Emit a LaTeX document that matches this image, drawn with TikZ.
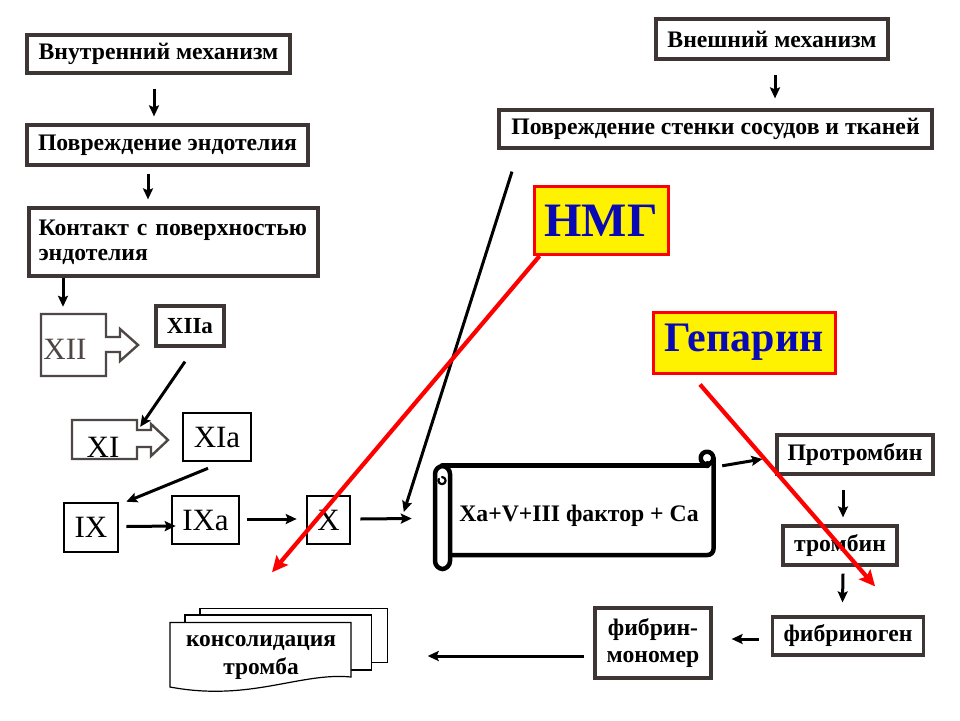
\documentclass[tikz,border=0pt]{standalone}
\usepackage{fontspec}
\setmainfont{Liberation Serif}
\usetikzlibrary{arrows.meta,calc}
\definecolor{boxgray}{HTML}{3E3535}
\definecolor{numgray}{HTML}{4F4646}
\definecolor{drugblue}{HTML}{0A0AB4}
\begin{document}
\begin{tikzpicture}[x=1pt,y=-1pt,
  lbl/.style={draw=boxgray, line width=3.2pt, fill=white, inner sep=0pt,
    font=\fontsize{23.7}{26}\selectfont\bfseries},
  numbox/.style={draw=black, line width=2.6pt, fill=white, inner sep=0pt,
    font=\fontsize{31}{32}\selectfont},
  drug/.style={draw=red, line width=3pt, fill=yellow, inner sep=0pt,
    text=drugblue, font=\bfseries},
  arr/.style={-{Stealth[length=11pt,width=10pt,inset=2pt]}, line width=3pt, black},
  redarr/.style={-{Stealth[length=16pt,width=15pt,inset=3pt]}, line width=4.2pt, red},
  outl/.style={draw=numgray, line width=2.4pt, fill=white},
  docline/.style={draw=black, line width=1.2pt, fill=white},
]
\useasboundingbox (0,0) rectangle (960,720);
\fill[white] (0,0) rectangle (960,720);

% left column boxes
\node[lbl, minimum width=263pt, minimum height=38pt] (inner) at (158.5,54) {Внутренний механизм};
\node[lbl, minimum width=281pt, minimum height=40pt] (endo) at (167.5,145) {Повреждение эндотелия};
\node[lbl, minimum width=289pt, minimum height=68pt, text width=270pt, align=left,
  font=\fontsize{23.7}{25}\selectfont\bfseries] (contact) at (173.5,242)
  {Контакт с поверхностью\\эндотелия};

% right top boxes
\node[lbl, minimum width=232pt, minimum height=40pt] (extern) at (772,39) {Внешний механизм};
\node[lbl, minimum width=433pt, minimum height=38pt] (wall) at (715.5,129) {Повреждение стенки сосудов и тканей};

% XII arrow shape
\draw[outl] (106,337) -- (120,337) -- (120,329) -- (138,345) -- (120,361) -- (120,352) -- (106,352)
  -- (106,376) -- (41,376) -- (41,314) -- (106,314) -- cycle;
\node[inner sep=0pt, minimum width=65pt, minimum height=62pt] (xiibox) at (73.5,345) {};
\node[font=\fontsize{31}{32}\selectfont, text=numgray, inner sep=0pt] (xii) at (65,349) {XII};

\node[numbox, line width=3.2pt, draw=boxgray, minimum width=68pt, minimum height=40pt,
  font=\fontsize{23}{24}\selectfont\bfseries] (xiia) at (190,326) {XIIa};

% XI arrow shape
\draw[outl] (137,430) -- (151,430) -- (151,424) -- (168,440) -- (151,456) -- (151,447) -- (137,447)
  -- (137,459) -- (72,459) -- (72,420) -- (137,420) -- cycle;
\node[inner sep=0pt, minimum width=65pt, minimum height=39pt] (xibox) at (104.5,439.5) {};
\node[font=\fontsize{31}{32}\selectfont, text=black, inner sep=0pt] (xi) at (103,447) {XI};

\node[numbox, minimum width=68pt, minimum height=48pt] (xia) at (217,437) {XIa};
\node[numbox, minimum width=54pt, minimum height=49pt] (ix) at (91,527.5) {IX};
\node[numbox, minimum width=67pt, minimum height=48pt] (ixa) at (205.5,520) {IXa};
\node[numbox, minimum width=43pt, minimum height=48pt] (x) at (328.5,520) {X};

% scroll
\begin{scope}[line width=4.5pt, line join=round, line cap=round]
  \fill[white] (443,465) rectangle (713,555);
  \draw (442,465.5) -- (707,465.5);
  \draw (713.5,458) -- (713.5,549) arc[start angle=0, end angle=90, radius=6] -- (450,555);
  \draw[fill=white] (707,458) circle[radius=6.3];
  \draw[line width=2.2pt] (707,462) arc[start angle=-90, end angle=150, radius=2.6];
  \draw[fill=white, rounded corners=8pt] (435,466) rectangle (450,569);
  \draw[line width=2.2pt] (442,477) arc[start angle=-90, end angle=210, radius=3.6];
\end{scope}
\node[inner sep=0pt, minimum width=280pt, minimum height=107pt] (scroll) at (575,518.5) {};
\node[font=\fontsize{23.7}{26}\selectfont\bfseries, inner sep=0pt] (scrolltxt) at (579,516) {Xa+V+III фактор + Ca};

% right column
\node[lbl, minimum width=156pt, minimum height=39pt] (prothr) at (855,454.5) {Протромбин};
\node[lbl, minimum width=114pt, minimum height=39pt] (thr) at (840,545.5) {тромбин};
\node[lbl, minimum width=151pt, minimum height=38pt] (fibrinogen) at (848,636) {фибриноген};
\node[lbl, minimum width=116pt, minimum height=70pt, align=center,
  font=\fontsize{23.7}{27}\selectfont\bfseries] (fm) at (653,643) {фибрин-\\мономер};

% consolidation stack
\draw[docline] (200,608.5) -- (387.5,608.5) -- (387.5,662.5) -- (200,662.5) -- cycle;
\node[inner sep=0pt, minimum width=187pt, minimum height=54pt] (consback) at (293.5,635.5) {};
\draw[docline] (185,615) -- (371.5,615) -- (371.5,670) -- (185,670) -- cycle;
\draw[docline] (170,622.5) -- (351,622.5) -- (351,677)
  .. controls (300,672) and (250,702) .. (170,687) -- cycle;
\node[inner sep=0pt, minimum width=181pt, minimum height=65pt] (cons) at (260.5,655) {};
\node[font=\fontsize{23.4}{28}\selectfont\bfseries, align=center, inner sep=0pt] (constxt) at (261,657)
  {консолидация\\тромба};

% drug boxes
\node[drug, minimum width=134pt, minimum height=68pt, font=\fontsize{48}{50}\selectfont\bfseries] (nmg) at (601,220.5) {НМГ};
\node[drug, minimum width=182pt, minimum height=61pt, font=\fontsize{42}{46}\selectfont\bfseries] (hep) at (744,342.5) {Гепарин};

% black arrows
\draw[arr] ($(inner.south)+(-4.5,14)$) -- ($(endo.north)+(-13.5,-7)$);
\draw[arr] ($(endo.south)+(-19.5,7)$) -- ($(contact.north)+(-25.5,-7)$);
\draw[arr] ($(contact.south)+(-110.5,0)$) -- ($(xiibox.north)+(-10.5,-7)$);
\draw[arr] ($(xiia.south)+(-5,14)$) -- ($(xibox.north east)+(3,7)$);
\draw[arr] ($(xia.south)+(-9,6)$) -- ($(ix.north east)+(7,0)$);
\draw[arr] ($(ix.east)+(7,-1)$) -- ($(ixa.west)+(5,6)$);
\draw[arr] ($(ixa.east)+(7,-1)$) -- ($(x.west)+(-9,-1)$);
\draw[arr] ($(x.east)+(9,-1)$) -- ($(scroll.west)+(-23,0)$);
\draw[arr] ($(wall.south)+(-203.5,22)$) -- ($(scroll.west)+(-31,-6.5)$);
\draw[arr] ($(extern.south)+(3,14)$) -- ($(wall.north)+(59.5,-10)$);
\draw[arr] ($(scroll.north east)+(7,1)$) -- ($(prothr.west)+(-13,4.5)$);
\draw[arr] ($(prothr.south)+(-12,14)$) -- ($(thr.north)+(3,-7)$);
\draw[arr] ($(thr.south)+(3,7)$) -- ($(fibrinogen.north)+(-5.5,-13)$);
\draw[arr] ($(fibrinogen.west)+(-12,3)$) -- ($(fm.east)+(19,-4)$);
\draw[arr] ($(fm.west)+(-9,13)$) -- ($(consback.east)+(40.5,20.5)$);

% red arrows
\draw[redarr] ($(nmg.south west)+(7,0)$) -- ($(consback.north)+(-21.5,-36)$);
\draw[redarr] ($(hep.south)+(-44,10)$) -- ($(fibrinogen.north east)+(-50,-29)$);
\end{tikzpicture}
\end{document}
